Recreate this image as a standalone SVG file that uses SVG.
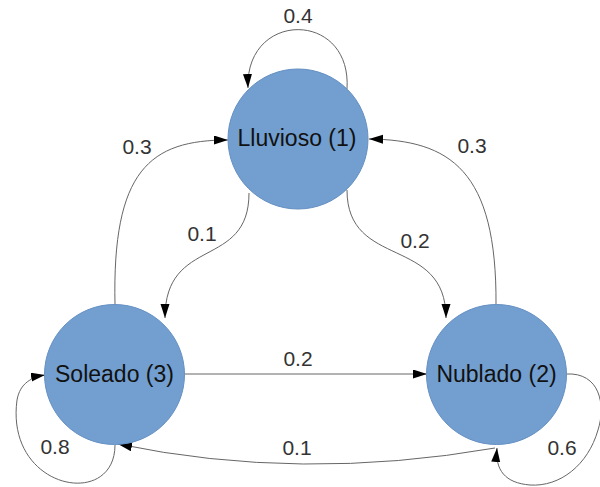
<svg xmlns="http://www.w3.org/2000/svg" width="600" height="487" viewBox="0 0 600 487">
<style>
.node{fill:#729fcf;stroke:#6590c4;stroke-width:1}
.nlabel{font-family:"Liberation Sans",Arial,sans-serif;font-size:23px;fill:#111;text-anchor:middle}
.elabel{font-family:"Liberation Sans",Arial,sans-serif;font-size:21px;fill:#333;text-anchor:middle}
.edge{fill:none;stroke:#666;stroke-width:1;marker-end:url(#arrow)}
</style>
<defs>
<marker id="arrow" markerUnits="userSpaceOnUse" markerWidth="14" markerHeight="10" refX="14" refY="4.5" orient="auto">
<path d="M0,0 L14,4.5 L0,9 z" fill="#000"/>
</marker>
</defs>
<rect width="600" height="487" fill="#fff"/>
<g id="connectors">
<path class="edge" d="M347,89 C352,10 245,10 248,88"/>
<path class="edge" d="M115,305 C112,170 150,140 228,140"/>
<path class="edge" d="M249,193 C249,270 165,235 165,318"/>
<path class="edge" d="M347,190 C347,270 446,235 446,318"/>
<path class="edge" d="M496,305 C497,170 450,140 369,139"/>
<path class="edge" d="M184,374 L427,374"/>
<path class="edge" d="M495,448 Q300,482 118,444"/>
<path class="edge" d="M115,445 C115,510 5,490 17,400 C20,383 32,377 45,375"/>
<path class="edge" d="M566,374 C600,372 606,405 598,430 C588,465 560,487 530,485 C505,483 495,470 497,448"/>
<text class="elabel" x="298" y="23">0.4</text>
<text class="elabel" x="137" y="154">0.3</text>
<text class="elabel" x="472" y="153">0.3</text>
<text class="elabel" x="202" y="241">0.1</text>
<text class="elabel" x="415" y="248">0.2</text>
<text class="elabel" x="298" y="366">0.2</text>
<text class="elabel" x="297" y="455">0.1</text>
<text class="elabel" x="55" y="454">0.8</text>
<text class="elabel" x="562" y="455">0.6</text>
</g>
<g id="lluvioso">
<circle class="node" cx="298" cy="139" r="70"/>
<text class="nlabel" x="297" y="146">Lluvioso (1)</text>
</g>
<g id="soleado">
<circle class="node" cx="114.5" cy="374.5" r="70"/>
<text class="nlabel" x="114.5" y="382">Soleado (3)</text>
</g>
<g id="nublado">
<circle class="node" cx="496.5" cy="374.5" r="70"/>
<text class="nlabel" x="496.5" y="382">Nublado (2)</text>
</g>
</svg>
